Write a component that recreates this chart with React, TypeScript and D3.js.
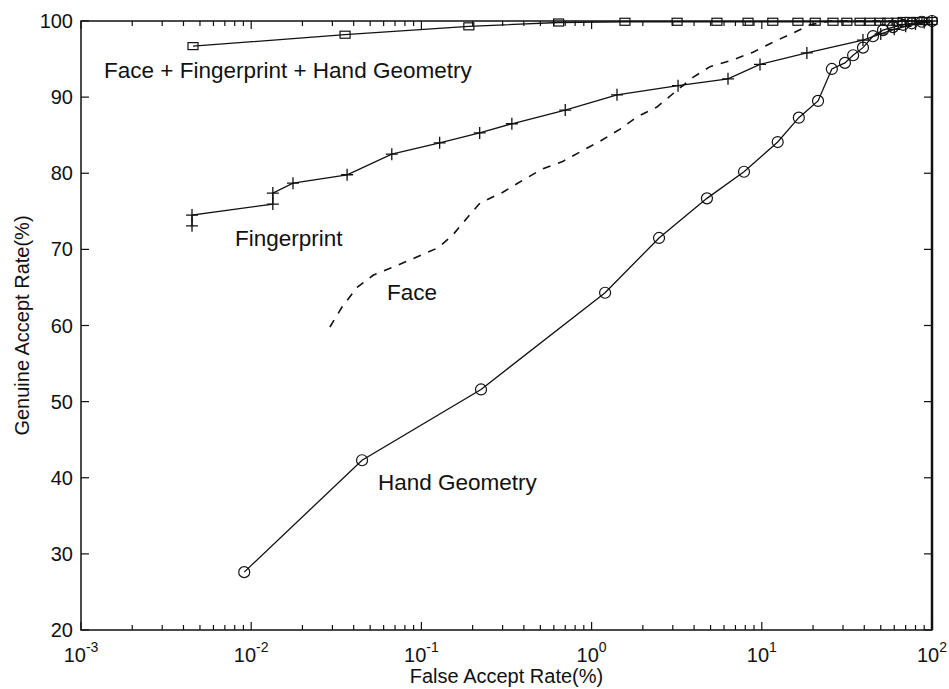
import React from "react";
import * as d3 from "d3";

// ---- data ----
const multiX = [0.00455, 0.0356, 0.19, 0.64, 1.57, 3.18, 5.45, 8.3, 11.6, 16.3, 20.6, 26.2, 31.6, 37.8, 43.2, 49.5, 55, 62.3, 67.6, 74.3, 81.6, 89.8, 100];
const multiY = [96.7, 98.2, 99.3, 99.8, 99.9, 99.9, 99.9, 99.9, 99.9, 99.9, 99.9, 99.9, 99.9, 99.9, 99.9, 99.9, 99.9, 99.9, 100, 100, 100, 100, 100];

const fingerX = [0.00449, 0.00449, 0.0134, 0.0134, 0.0176, 0.0366, 0.067, 0.128, 0.22, 0.34, 0.7, 1.41, 3.22, 6.33, 9.76, 18.4, 39.3, 50, 60, 70, 80, 90, 100];
const fingerY = [73.1, 74.5, 75.95, 77.4, 78.7, 79.8, 82.5, 84.0, 85.3, 86.5, 88.3, 90.3, 91.5, 92.4, 94.3, 95.8, 97.5, 98.3, 98.9, 99.3, 99.6, 99.8, 100];

const faceX = [0.029, 0.0341, 0.0419, 0.052, 0.072, 0.094, 0.125, 0.153, 0.185, 0.221, 0.301, 0.395, 0.518, 0.67, 0.855, 1.12, 1.47, 1.85, 2.42, 3.18, 3.94, 4.96, 6.77, 8.88, 11.6, 15.2, 19.2, 25.2, 100];
const faceY = [59.8, 62.4, 65.0, 66.6, 67.9, 69.0, 70.2, 71.9, 74.1, 76.1, 77.5, 79.1, 80.6, 81.5, 82.8, 84.2, 85.8, 87.4, 88.7, 90.9, 92.6, 94.0, 94.9, 95.9, 97.2, 98.4, 99.5, 100, 100];

const handX = [0.0091, 0.0448, 0.224, 1.2, 2.49, 4.76, 7.86, 12.4, 16.5, 21.4, 25.8, 30.8, 34.4, 39.3, 45, 51.5, 59, 67.6, 76, 87, 100];
const handY = [27.6, 42.3, 51.6, 64.3, 71.5, 76.7, 80.2, 84.1, 87.3, 89.5, 93.7, 94.5, 95.5, 96.5, 98.0, 98.8, 99.2, 99.5, 99.7, 99.9, 100];

const xDecades = [-3, -2, -1, 0, 1, 2];
const yTicks = [20, 30, 40, 50, 60, 70, 80, 90, 100];

const labelMulti = "Face + Fingerprint + Hand Geometry";
const labelFinger = "Fingerprint";
const labelFace = "Face";
const labelHand = "Hand Geometry";
const xTitle = "False Accept Rate(%)";
const yTitle = "Genuine Accept Rate(%)";

const W = 949;
const H = 689;
const L = 81, R = 932, T = 21, B = 630;

const FONT = "'Liberation Sans', Arial, Helvetica, sans-serif";

export default function App() {
  const x = d3.scaleLog().domain([1e-3, 1e2]).range([L, R]);
  const y = d3.scaleLinear().domain([20, 100]).range([B, T]);

  const zip = (xs: number[], ys: number[]) => xs.map((v, i) => [v, ys[i]] as [number, number]);
  const line = d3.line<[number, number]>().x((d) => x(d[0])).y((d) => y(d[1]));

  const multi = zip(multiX, multiY);
  const finger = zip(fingerX, fingerY);
  const face = zip(faceX, faceY);
  const hand = zip(handX, handY);

  const minor: number[] = [];
  xDecades.slice(0, -1).forEach((e) => {
    for (let k = 2; k <= 9; k++) minor.push(k * Math.pow(10, e));
  });

  const stroke = "#111";

  return (
    <svg width={W} height={H} style={{ position: "absolute", left: 0, top: 0, background: "#fff" }}>
      <rect x={0} y={0} width={W} height={H} fill="#fff" />
      <clipPath id="plot">
        <rect x={L - 8} y={T - 8} width={R - L + 16} height={B - T + 16} />
      </clipPath>

      {/* frame */}
      <rect x={L} y={T} width={R - L} height={B - T} fill="none" stroke={stroke} strokeWidth={1.5} />
      <line x1={R} y1={T} x2={R} y2={B} stroke={stroke} strokeWidth={2.5} />

      {/* x ticks */}
      {xDecades.map((e) => {
        const px = x(Math.pow(10, e));
        return (
          <g key={"xd" + e}>
            <line x1={px} x2={px} y1={B} y2={B - 8} stroke={stroke} strokeWidth={1.2} />
            <line x1={px} x2={px} y1={T} y2={T + 8} stroke={stroke} strokeWidth={1.2} />
            <text x={px} y={662} textAnchor="middle" fontFamily={FONT} fontSize={20} fill="#111">
              10<tspan fontSize={14} dy={-10}>{e}</tspan>
            </text>
          </g>
        );
      })}
      {minor.map((v, i) => {
        const px = x(v);
        return (
          <g key={"xm" + i}>
            <line x1={px} x2={px} y1={B} y2={B - 5} stroke={stroke} strokeWidth={1.2} />
            <line x1={px} x2={px} y1={T} y2={T + 5} stroke={stroke} strokeWidth={1.2} />
          </g>
        );
      })}

      {/* y ticks */}
      {yTicks.map((v) => {
        const py = y(v);
        return (
          <g key={"y" + v}>
            <line x1={L} x2={L + 8} y1={py} y2={py} stroke={stroke} strokeWidth={1.2} />
            <line x1={R} x2={R - 8} y1={py} y2={py} stroke={stroke} strokeWidth={1.2} />
            <text x={73} y={py + 7} textAnchor="end" fontFamily={FONT} fontSize={20} fill="#111">
              {v}
            </text>
          </g>
        );
      })}

      {/* axis titles */}
      <text x={(L + R) / 2} y={683} textAnchor="middle" fontFamily={FONT} fontSize={20} fill="#111">
        {xTitle}
      </text>
      <text
        transform={`translate(29, ${(T + B) / 2}) rotate(-90)`}
        textAnchor="middle"
        fontFamily={FONT}
        fontSize={20}
        fill="#111"
      >
        {yTitle}
      </text>

      <g clipPath="url(#plot)">
        {/* curves */}
        <path d={line(multi) || ""} fill="none" stroke={stroke} strokeWidth={1.3} />
        <path d={line(finger) || ""} fill="none" stroke={stroke} strokeWidth={1.3} />
        <path d={line(face) || ""} fill="none" stroke={stroke} strokeWidth={1.6} strokeDasharray="8,8" />
        <path d={line(hand) || ""} fill="none" stroke={stroke} strokeWidth={1.3} />

        {/* markers */}
        {multi.map((d, i) => (
          <rect key={"m" + i} x={x(d[0]) - 5} y={y(d[1]) - 3.5} width={10} height={7} fill="none" stroke={stroke} strokeWidth={1.2} />
        ))}
        {finger.map((d, i) => (
          <path
            key={"f" + i}
            d={`M${x(d[0]) - 6},${y(d[1])}h12M${x(d[0])},${y(d[1]) - 6}v12`}
            stroke={stroke}
            strokeWidth={1.3}
          />
        ))}
        {hand.map((d, i) => (
          <circle key={"h" + i} cx={x(d[0])} cy={y(d[1])} r={5.5} fill="none" stroke={stroke} strokeWidth={1.2} />
        ))}
      </g>

      {/* annotations */}
      <text x={104} y={78} fontFamily={FONT} fontSize={22.5} fill="#111">{labelMulti}</text>
      <text x={235} y={246} fontFamily={FONT} fontSize={22.5} fill="#111">{labelFinger}</text>
      <text x={387} y={300} fontFamily={FONT} fontSize={22.5} fill="#111">{labelFace}</text>
      <text x={378} y={490} fontFamily={FONT} fontSize={22.5} fill="#111">{labelHand}</text>
    </svg>
  );
}
